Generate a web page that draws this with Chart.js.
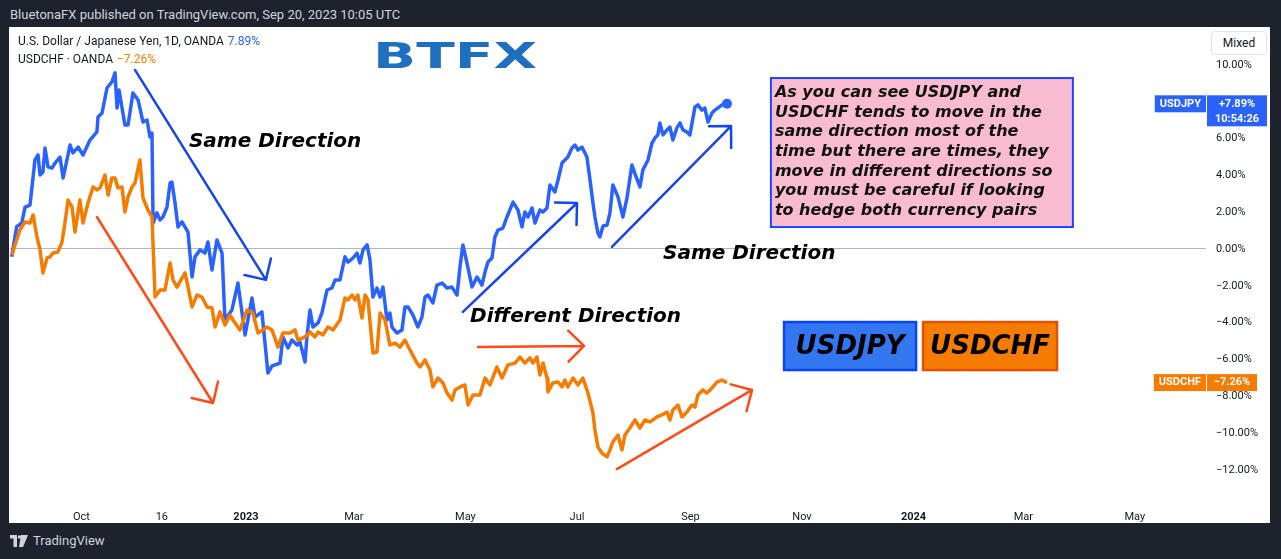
<!DOCTYPE html>
<html>
<head>
<meta charset="utf-8">
<script src="https://cdn.jsdelivr.net/npm/chart.js@4.4.0/dist/chart.umd.min.js"></script>
<style>
  html, body { margin: 0; padding: 0; }
  body { width: 1281px; height: 559px; background: #1e222d; position: relative; overflow: hidden; font-family: Roboto, "Open Sans", sans-serif; }
  #topbar { position: absolute; left: 10px; top: 7px; color: #d1d4dc; font-size: 13px; line-height: 16px; white-space: nowrap; }
  #panel { position: absolute; left: 9px; top: 27px; width: 1261px; height: 496px; background: #fff; }
  #wrap { position: absolute; left: 10px; top: 28px; width: 1260px; height: 495px; }
  #legend { position: absolute; left: 18px; top: 33px; font-size: 12px; color: #131722; line-height: 17.6px; white-space: nowrap; }
  #legend .v1 { color: #2962ff; margin-left: 4px; }
  #legend .v2 { color: #f57c00; margin-left: 4px; }
  #mixed { position: absolute; left: 1211px; top: 31px; width: 54px; height: 22px; border: 1px solid #e0e3eb; border-radius: 4px; font-size: 12px; color: #131722; text-align: center; line-height: 22px; background: #fff; }
  #footer { position: absolute; left: 10px; top: 533px; color: #d1d4dc; font-size: 13px; line-height: 16px; display: flex; align-items: center; }
  #footer svg { margin-right: 5px; }
</style>
</head>
<body>
<div id="topbar">BluetonaFX published on TradingView.com, Sep 20, 2023 10:05 UTC</div>
<div id="panel"></div>
<div id="wrap"><canvas id="myChart" width="1260" height="495"></canvas></div>
<div id="legend">
  <div>U.S. Dollar / Japanese Yen, 1D, OANDA<span class="v1" id="jpyVal"></span></div>
  <div>USDCHF · OANDA<span class="v2" id="chfVal"></span></div>
</div>
<div id="mixed">Mixed</div>
<div id="footer"><svg width="18" height="12" viewBox="0 0 18 12"><path d="M0 0h7v12H3.5V3.5H0z" fill="#d1d4dc"/><circle cx="9.5" cy="2" r="1.8" fill="#d1d4dc"/><path d="M11 0h7l-5 12H9z" fill="#d1d4dc"/></svg>TradingView</div>
<script>
// days counted from 1 Jan 2023, values in % change

const jpyDays = [-128.1,-125.4,-122.6,-120.8,-118.1,-116.4,-115.4,-113.7,-112.6,-111.0,
  -109.9,-108.2,-106.1,-104.4,-101.7,-100.0,-97.9,-96.2,-94.6,-91.8,
  -89.1,-85.3,-81.5,-80.9,-78.7,-76.0,-73.3,-71.6,-70.5,-69.4,
  -66.2,-64.5,-61.8,-59.0,-56.3,-54.1,-52.5,-51.4,-50.8,-48.7,
  -47.0,-45.4,-43.2,-41.5,-40.5,-38.8,-37.2,-35.0,-31.7,-29.5,
  -27.9,-25.1,-22.4,-20.8,-18.6,-15.9,-13.1,-11.5,-7.7,-4.4,
  -0.5,3.3,4.9,8.7,12.0,14.2,18.6,20.2,23.0,25.1,
  27.9,29.5,32.3,33.3,35.0,36.6,39.4,41.5,44.3,47.0,
  48.7,51.4,54.1,55.8,58.5,60.7,62.3,64.0,66.2,67.8,
  69.4,71.6,73.3,74.9,77.1,78.7,79.8,82.6,85.3,86.9,
  88.6,91.3,94.0,96.2,97.9,99.5,102.2,104.4,107.2,109.9,
  112.6,115.4,117.0,118.6,120.8,123.6,126.3,129.0,130.7,132.3,
  134.5,136.1,137.8,140.5,142.7,146.0,148.7,150.9,152.5,154.2,
  156.4,158.0,160.7,162.4,164.6,166.2,168.9,170.6,172.8,174.4,
  176.0,178.2,179.9,181.5,183.7,186.4,188.1,189.7,190.8,192.4,
  193.5,195.2,197.4,199.0,200.6,203.4,206.1,208.3,211.0,212.7,
  215.4,217.0,219.8,222.0,223.6,225.2,226.3,228.0,230.2,231.8,
  233.4,235.6,237.3,238.9,241.1,242.7,245.5,247.1,249.3,250.9,
  252.6,254.8,256.4,258.0,260.2,263.0]
const jpyPct = [-0.42,1.21,1.41,2.28,2.39,3.91,4.84,5.11,4.02,4.18,
  5.49,4.46,4.40,4.67,5.00,3.86,4.84,5.65,5.22,5.54,
  5.11,5.92,6.36,7.17,7.39,8.75,9.08,9.57,7.66,8.64,
  6.74,6.74,8.48,8.10,6.90,7.01,6.09,6.30,1.41,1.96,
  1.58,1.74,2.28,3.59,3.64,2.50,1.20,1.47,0.92,-1.52,
  -0.43,-0.05,-0.22,0.38,-1.14,0.49,-0.22,-3.86,-3.32,-1.85,
  -4.67,-2.66,-3.70,-3.42,-6.74,-6.36,-6.20,-4.78,-5.38,-4.95,
  -5.22,-5.05,-6.14,-4.78,-3.32,-4.24,-4.02,-3.48,-2.23,-2.12,
  -1.68,-1.68,-0.43,-0.71,-0.49,-0.22,-0.76,-0.05,0.22,-0.60,
  -2.61,-2.12,-2.61,-2.07,-3.86,-3.48,-4.24,-4.57,-4.40,-3.15,
  -3.15,-3.59,-4.24,-3.70,-2.61,-2.50,-2.93,-1.96,-1.85,-2.12,
  -2.07,-2.50,-0.98,0.22,-0.76,-2.07,-1.52,-1.96,-1.25,-0.71,
  -0.49,0.65,1.03,1.14,1.74,2.55,2.12,1.20,2.01,1.74,
  2.23,1.41,2.12,2.01,2.23,3.48,3.10,3.75,4.67,4.84,
  5.00,5.49,5.65,5.38,5.54,5.00,3.75,2.50,1.74,0.87,
  0.65,1.25,1.30,1.96,3.48,2.83,1.74,2.77,4.57,4.08,
  3.37,4.29,4.84,5.76,6.03,6.20,6.85,6.20,6.47,6.63,
  5.92,6.58,6.85,6.47,6.36,6.20,7.72,7.83,7.55,7.66,
  6.90,7.39,7.55,7.66,7.83,7.89]

const chfDays = [-127.9,-126.3,-123.6,-120.8,-118.1,-116.4,-114.3,-112.6,-111.0,-108.8,
  -107.2,-105.5,-102.8,-100.6,-99.0,-97.3,-95.1,-93.5,-90.8,-89.1,
  -86.4,-83.6,-81.5,-79.8,-77.1,-75.4,-73.3,-71.6,-70.0,-67.8,
  -66.2,-64.5,-62.3,-60.7,-58.0,-56.3,-53.6,-51.4,-49.7,-47.0,
  -44.3,-41.5,-39.9,-37.7,-35.0,-33.3,-29.5,-26.8,-24.1,-21.3,
  -18.6,-16.9,-14.2,-11.5,-8.7,-7.1,-3.3,0.5,3.8,6.6,
  11.5,14.2,17.5,20.2,24.1,26.8,28.4,32.3,35.0,37.7,
  39.4,42.1,44.8,47.6,51.4,54.1,55.8,58.0,59.6,61.2,
  63.4,65.1,66.7,69.4,71.6,73.3,76.0,78.7,81.5,84.2,
  86.9,89.7,93.5,95.1,97.9,100.6,102.2,105.0,107.7,109.9,
  112.6,114.3,117.0,119.7,121.4,124.1,127.9,130.7,133.4,137.2,
  140.0,143.2,147.1,149.8,152.5,155.3,156.9,159.1,160.7,162.4,
  164.6,165.1,167.8,170.6,172.8,174.4,176.0,178.8,181.5,184.2,
  187.0,189.7,190.8,192.4,194.6,197.4,199.0,200.6,203.4,205.6,
  207.2,209.9,212.7,215.4,218.1,220.9,224.7,227.4,230.2,231.8,
  233.4,236.2,238.4,241.1,243.8,245.5,247.1,249.8,252.0,254.8,
  257.5,260.2,263.0]
const chfPct = [-0.33,0.22,1.03,1.47,1.41,1.85,0.65,-0.05,-1.30,-0.49,
  -0.43,-0.22,-0.16,0.38,1.41,2.66,2.28,0.92,2.66,1.41,
  2.50,3.37,3.21,3.32,4.02,2.93,3.86,3.86,3.32,3.37,
  2.01,2.83,3.37,3.59,4.84,2.77,2.12,1.74,-2.61,-2.23,
  -2.23,-0.76,-1.68,-2.07,-1.58,-1.30,-3.15,-2.50,-2.61,-3.15,
  -3.21,-4.24,-3.42,-4.13,-3.59,-3.86,-4.40,-3.32,-3.48,-4.57,
  -4.24,-4.40,-5.33,-4.57,-4.57,-4.40,-4.95,-4.78,-4.51,-4.78,
  -4.51,-4.67,-4.24,-4.40,-3.86,-2.66,-2.77,-2.50,-2.77,-2.50,
  -3.75,-2.50,-2.77,-5.65,-5.60,-3.48,-3.86,-5.22,-5.11,-5.33,
  -4.95,-5.49,-6.20,-6.41,-6.03,-6.58,-7.50,-7.01,-7.28,-7.83,
  -8.21,-7.66,-7.50,-7.39,-8.48,-7.93,-7.93,-7.01,-7.39,-6.41,
  -7.01,-6.30,-6.20,-5.87,-6.20,-5.92,-6.20,-5.87,-6.85,-6.20,
  -7.01,-7.77,-7.28,-7.23,-7.50,-7.12,-7.50,-7.01,-7.39,-7.01,
  -7.83,-8.91,-9.84,-10.76,-11.09,-11.30,-10.92,-10.49,-10.11,-10.92,
  -10.11,-9.73,-9.29,-9.73,-9.29,-9.40,-9.13,-9.02,-8.86,-9.29,
  -8.75,-8.48,-9.13,-8.86,-8.48,-8.59,-7.93,-7.66,-7.83,-7.55,
  -7.23,-7.12,-7.26]

// axis ticks
const xTickDays = [-90, -46, 0, 59, 120, 181, 243, 304, 365, 425, 486]
const xTickLabels = ['Oct', '16', '2023', 'Mar', 'May', 'Jul', 'Sep', 'Nov', '2024', 'Mar', 'May']
const yearTicks = [0, 365]
const yTickValues = [-12, -10, -8, -6, -4, -2, 0, 2, 4, 6, 8, 10]

// drawings on the chart, in (day, %) units
const arrows = [
  {from: [-60.7, 9.73], to: [10.9, -1.68], color: '#1545ee'},
  {from: [-81.5, 1.74], to: [-18.0, -8.37], color: '#ff4a1a'},
  {from: [118.6, -3.42], to: [181.0, 2.50], color: '#1545ee'},
  {from: [200.1, 0.11], to: [265.2, 6.68], color: '#1545ee'},
  {from: [126.9, -5.33], to: [184.8, -5.27], color: '#ff4a1a'},
  {from: [202.8, -11.96], to: [276.7, -7.66], color: '#ff4a1a'}
]
const notes = [
  {text: 'Same Direction', at: [-31.2, 5.83]},
  {text: 'Same Direction', at: [228.0, -0.26]},
  {text: 'Different Direction', at: [122.5, -3.68]}
]
const infoLines = [
  'As you can see USDJPY and',
  'USDCHF tends to move in the',
  'same direction most of the',
  'time but there are times, they',
  'move in different directions so',
  'you must be careful if looking',
  'to hedge both currency pairs'
]
const infoAt = [287.0, 9.29]
const pairBoxes = [
  {text: 'USDJPY', at: [294.2, -3.97], w: 132, fill: '#3377f0', stroke: '#0a43ff'},
  {text: 'USDCHF', at: [370.2, -3.97], w: 134, fill: '#f57c00', stroke: '#e65100'}
]

const jpyColor = '#2962ff'
const chfColor = '#f57c00'

function pctText(v, plus) {
  return (v < 0 ? '\u2212' : (plus ? '+' : '')) + Math.abs(v).toFixed(2) + '%'
}

document.querySelector('#jpyVal').textContent = pctText(jpyPct[jpyPct.length - 1], false)
document.querySelector('#chfVal').textContent = pctText(chfPct[chfPct.length - 1], false)

function drawArrow(ctx, a, b, color) {
  ctx.save()
  ctx.strokeStyle = color
  ctx.lineWidth = 2.5
  ctx.lineCap = 'round'
  ctx.beginPath()
  ctx.moveTo(a[0], a[1])
  ctx.lineTo(b[0], b[1])
  const back = Math.atan2(b[1] - a[1], b[0] - a[0]) + Math.PI
  ;[-1, 1].forEach(s => {
    ctx.moveTo(b[0], b[1])
    ctx.lineTo(b[0] + 22 * Math.cos(back + s * Math.PI / 4), b[1] + 22 * Math.sin(back + s * Math.PI / 4))
  })
  ctx.stroke()
  ctx.restore()
}

function priceTag(ctx, chart, name, value, color, extra) {
  const yPx = chart.scales.y.getPixelForValue(value)
  const right = chart.chartArea.right
  ctx.save()
  ctx.font = 'bold 11px Roboto'
  const nameW = ctx.measureText(name).width + 10
  const valText = pctText(value, true)
  const valW = extra ? 60 : 50
  ctx.fillStyle = color
  ctx.fillRect(right - nameW, yPx - 8.5, nameW, 17)
  ctx.fillRect(right + 1, yPx - 8.5, valW, extra ? 31 : 17)
  ctx.fillStyle = '#fff'
  ctx.textBaseline = 'middle'
  ctx.textAlign = 'center'
  ctx.fillText(name, right - nameW / 2, yPx)
  ctx.fillText(valText, right + 1 + valW / 2, yPx)
  if (extra) ctx.fillText(extra, right + 1 + valW / 2, yPx + 15)
  ctx.restore()
}

const drawings = {
  id: 'drawings',
  afterDraw(chart) {
    const ctx = chart.ctx
    const sx = chart.scales.x, sy = chart.scales.y
    const px = p => [sx.getPixelForValue(p[0]), sy.getPixelForValue(p[1])]

    // BTFX logo
    ctx.save()
    ctx.fillStyle = '#1e6fbf'
    ctx.font = 'bold 36px "DejaVu Sans"'
    ctx.textBaseline = 'alphabetic'
    const w = ctx.measureText('BTFX').width
    ctx.translate(363, 40)
    ctx.scale(164 / w, 1)
    ctx.fillText('BTFX', 0, 0)
    ctx.restore()

    arrows.forEach(a => drawArrow(ctx, px(a.from), px(a.to), a.color))

    ctx.save()
    ctx.fillStyle = '#000'
    ctx.font = 'italic bold 20px "DejaVu Sans"'
    ctx.textBaseline = 'middle'
    notes.forEach(n => {
      const p = px(n.at)
      ctx.fillText(n.text, p[0], p[1])
    })
    ctx.restore()

    // info box
    const ib = px(infoAt)
    ctx.save()
    ctx.fillStyle = '#f8bbd0'
    ctx.fillRect(ib[0], ib[1], 302, 149)
    ctx.strokeStyle = '#1a46ff'
    ctx.lineWidth = 2
    ctx.strokeRect(ib[0], ib[1], 302, 149)
    ctx.fillStyle = '#111'
    ctx.font = 'italic bold 16px "DejaVu Sans"'
    ctx.textBaseline = 'middle'
    infoLines.forEach((t, i) => ctx.fillText(t, ib[0] + 4, ib[1] + 15 + i * 19.6))
    ctx.restore()

    // pair boxes
    pairBoxes.forEach(b => {
      const p = px(b.at)
      ctx.save()
      ctx.fillStyle = b.fill
      ctx.fillRect(p[0], p[1], b.w, 48)
      ctx.strokeStyle = b.stroke
      ctx.lineWidth = 2.5
      ctx.strokeRect(p[0], p[1], b.w, 48)
      ctx.fillStyle = '#000'
      ctx.font = 'italic bold 26px "DejaVu Sans"'
      ctx.textAlign = 'center'
      ctx.textBaseline = 'middle'
      ctx.fillText(b.text, p[0] + b.w / 2, p[1] + 25)
      ctx.restore()
    })

    priceTag(ctx, chart, 'USDJPY', jpyPct[jpyPct.length - 1], jpyColor, '10:54:26')
    priceTag(ctx, chart, 'USDCHF', chfPct[chfPct.length - 1], chfColor, null)
  }
}

const ctx = document.querySelector('#myChart').getContext('2d')

let chart = new Chart(ctx, {
    type: 'line',
    data: {
        datasets: [{
            label: 'USDCHF',
            data: chfDays.map((d, i) => ({x: d, y: chfPct[i]})),
            borderColor: chfColor,
            borderWidth: 3.5,
            pointRadius: 0,
            tension: 0,
            borderJoinStyle: 'round'
        }, {
            label: 'USDJPY',
            data: jpyDays.map((d, i) => ({x: d, y: jpyPct[i]})),
            borderColor: jpyColor,
            backgroundColor: jpyColor,
            borderWidth: 3.5,
            pointRadius: c => c.dataIndex === jpyDays.length - 1 ? 5 : 0,
            pointBorderWidth: 0,
            tension: 0,
            borderJoinStyle: 'round'
        }]
    },
    options: {
        responsive: false,
        animation: false,
        layout: {padding: 0, autoPadding: false},
        plugins: {legend: {display: false}, tooltip: {enabled: false}},
        scales: {
            x: {
                type: 'linear',
                min: -129.03,
                max: 524.9,
                afterBuildTicks: s => { s.ticks = xTickDays.map(v => ({value: v})) },
                afterFit: s => { s.height = 28; s.paddingLeft = 0; s.paddingRight = 0 },
                grid: {display: false},
                border: {display: false},
                ticks: {
                    autoSkip: false,
                    maxRotation: 0,
                    padding: 8,
                    color: '#131722',
                    font: c => ({family: 'Roboto', size: 11, weight: (c.tick && yearTicks.includes(c.tick.value)) ? 'bold' : 'normal'}),
                    callback: v => xTickLabels[xTickDays.indexOf(v)]
                }
            },
            y: {
                position: 'right',
                min: -13.37,
                max: 12.01,
                afterBuildTicks: s => { s.ticks = yTickValues.map(v => ({value: v})) },
                afterFit: s => { s.width = 64; s.paddingTop = 0; s.paddingBottom = 0 },
                grid: {
                    drawTicks: false,
                    color: c => (c.tick && c.tick.value === 0) ? '#b2b5be' : 'rgba(0,0,0,0)'
                },
                border: {display: false},
                ticks: {
                    padding: 10,
                    color: '#131722',
                    font: {family: 'Roboto', size: 11},
                    callback: v => pctText(v, false)
                }
            }
        }
    },
    plugins: [drawings]
});
</script>
</body>
</html>
